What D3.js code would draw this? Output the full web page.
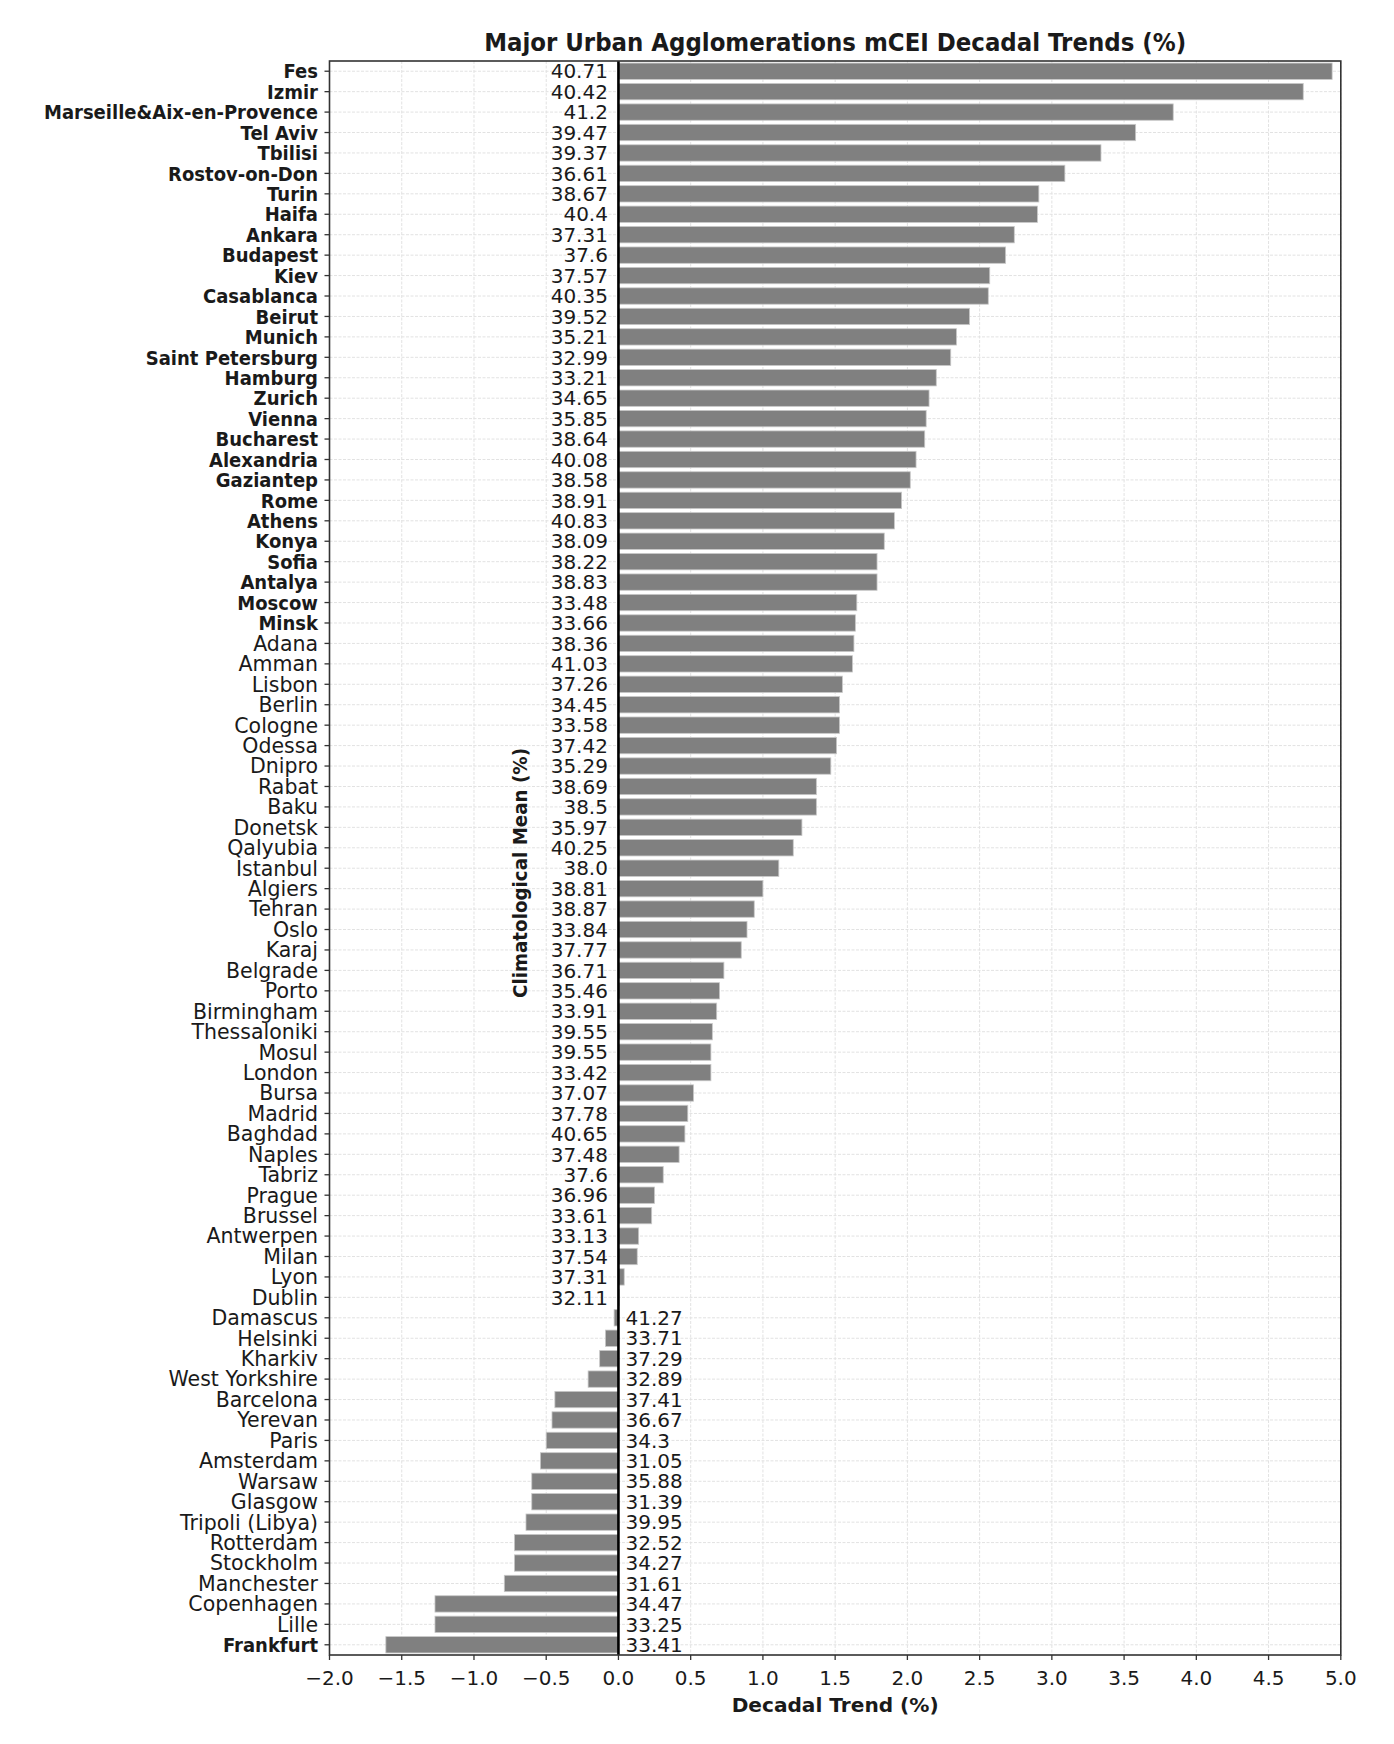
<!DOCTYPE html>
<html>
<head>
<meta charset="utf-8">
<script src="https://cdn.jsdelivr.net/npm/d3@7"></script>
<style>
  html, body { margin: 0; padding: 0; background: #fff; }
  text { font-family: "DejaVu Sans", sans-serif; fill: #1a1a1a; }
</style>
</head>
<body>
<script>
const cities = ["Fes","Izmir","Marseille&Aix-en-Provence","Tel Aviv","Tbilisi","Rostov-on-Don","Turin","Haifa","Ankara","Budapest","Kiev","Casablanca","Beirut","Munich","Saint Petersburg","Hamburg","Zurich","Vienna","Bucharest","Alexandria","Gaziantep","Rome","Athens","Konya","Sofia","Antalya","Moscow","Minsk","Adana","Amman","Lisbon","Berlin","Cologne","Odessa","Dnipro","Rabat","Baku","Donetsk","Qalyubia","Istanbul","Algiers","Tehran","Oslo","Karaj","Belgrade","Porto","Birmingham","Thessaloniki","Mosul","London","Bursa","Madrid","Baghdad","Naples","Tabriz","Prague","Brussel","Antwerpen","Milan","Lyon","Dublin","Damascus","Helsinki","Kharkiv","West Yorkshire","Barcelona","Yerevan","Paris","Amsterdam","Warsaw","Glasgow","Tripoli (Libya)","Rotterdam","Stockholm","Manchester","Copenhagen","Lille","Frankfurt"];

const trends = [4.94,4.74,3.84,3.58,3.34,3.09,2.91,2.90,2.74,2.68,2.57,2.56,2.43,2.34,2.30,2.20,2.15,2.13,2.12,2.06,2.02,1.96,1.91,1.84,1.79,1.79,1.65,1.64,1.63,1.62,1.55,1.53,1.53,1.51,1.47,1.37,1.37,1.27,1.21,1.11,1.00,0.94,0.89,0.85,0.73,0.70,0.68,0.65,0.64,0.64,0.52,0.48,0.46,0.42,0.31,0.25,0.23,0.14,0.13,0.04,0.005,-0.03,-0.09,-0.13,-0.21,-0.44,-0.46,-0.50,-0.54,-0.60,-0.60,-0.64,-0.72,-0.72,-0.79,-1.27,-1.27,-1.61];

const means = [40.71,40.42,41.2,39.47,39.37,36.61,38.67,40.4,37.31,37.6,37.57,40.35,39.52,35.21,32.99,33.21,34.65,35.85,38.64,40.08,38.58,38.91,40.83,38.09,38.22,38.83,33.48,33.66,38.36,41.03,37.26,34.45,33.58,37.42,35.29,38.69,38.5,35.97,40.25,38.0,38.81,38.87,33.84,37.77,36.71,35.46,33.91,39.55,39.55,33.42,37.07,37.78,40.65,37.48,37.6,36.96,33.61,33.13,37.54,37.31,32.11,41.27,33.71,37.29,32.89,37.41,36.67,34.3,31.05,35.88,31.39,39.95,32.52,34.27,31.61,34.47,33.25,33.41];

const boldCities = ["Fes","Izmir","Marseille&Aix-en-Provence","Tel Aviv","Tbilisi","Rostov-on-Don","Turin","Haifa","Ankara","Budapest","Kiev","Casablanca","Beirut","Munich","Saint Petersburg","Hamburg","Zurich","Vienna","Bucharest","Alexandria","Gaziantep","Rome","Athens","Konya","Sofia","Antalya","Moscow","Minsk","Frankfurt"];

const xTicks = [-2.0,-1.5,-1.0,-0.5,0.0,0.5,1.0,1.5,2.0,2.5,3.0,3.5,4.0,4.5,5.0];
const xDomain = [-2, 5];

const titleText = "Major Urban Agglomerations mCEI Decadal Trends (%)";
const xLabelText = "Decadal Trend (%)";
const yLabelText = "Climatological Mean (%)";

const W = 1394, H = 1744;
const m = {left: 329.5, right: W - 1340.8, top: 61, bottom: H - 1655};

const data = cities.map((c, i) => ({city: c, trend: trends[i], mean: means[i], bold: boldCities.includes(c)}));

const svg = d3.select("body").append("svg").attr("width", W).attr("height", H);
svg.append("rect").attr("width", W).attr("height", H).attr("fill", "#fff");

const x = d3.scaleLinear().domain(xDomain).range([m.left, W - m.right]);
const y = d3.scaleBand().domain(cities).range([m.top, H - m.bottom]).paddingInner(0.2).paddingOuter(0.1);

function pyStr(v) { return Number.isInteger(v) ? v.toFixed(1) : String(v); }
function compress(sel, f) {
  sel.each(function() {
    const w = this.getComputedTextLength();
    this.setAttribute("textLength", w * f);
    this.setAttribute("lengthAdjust", "spacingAndGlyphs");
  });
}

// grid
const grid = svg.append("g");
grid.selectAll("line.gx").data(xTicks).join("line")
  .attr("x1", d => x(d)).attr("x2", d => x(d))
  .attr("y1", m.top).attr("y2", H - m.bottom)
  .attr("stroke", "#e2e2e2").attr("stroke-width", 1).attr("stroke-dasharray", "3,1.5");
grid.selectAll("line.gy").data(cities).join("line")
  .attr("x1", m.left).attr("x2", W - m.right)
  .attr("y1", d => y(d) + y.bandwidth() / 2).attr("y2", d => y(d) + y.bandwidth() / 2)
  .attr("stroke", "#e2e2e2").attr("stroke-width", 1).attr("stroke-dasharray", "3,1.5");

// bars
svg.append("g").selectAll("rect").data(data).join("rect")
  .attr("x", d => x(Math.min(0, d.trend)))
  .attr("width", d => Math.abs(x(d.trend) - x(0)))
  .attr("y", d => y(d.city))
  .attr("height", y.bandwidth())
  .attr("fill", "#808080")
  .attr("stroke", "#c8c8c8").attr("stroke-width", 0.8);

// zero line
svg.append("line").attr("x1", x(0)).attr("x2", x(0)).attr("y1", m.top).attr("y2", H - m.bottom)
  .attr("stroke", "#000").attr("stroke-width", 2.6);

// mean labels
svg.append("g").selectAll("text").data(data).join("text")
  .attr("x", d => d.trend >= 0 ? x(0) - 10.5 : x(0) + 7)
  .attr("y", d => y(d.city) + y.bandwidth() / 2)
  .attr("dy", "0.36em")
  .attr("text-anchor", d => d.trend >= 0 ? "end" : "start")
  .attr("font-size", 20)
  .text(d => pyStr(d.mean));

// frame
svg.append("rect").attr("x", m.left).attr("y", m.top)
  .attr("width", W - m.right - m.left).attr("height", H - m.bottom - m.top)
  .attr("fill", "none").attr("stroke", "#333").attr("stroke-width", 1.6);

// y axis ticks + labels
const yAx = svg.append("g");
yAx.selectAll("line").data(cities).join("line")
  .attr("x1", m.left - 5).attr("x2", m.left)
  .attr("y1", d => y(d) + y.bandwidth() / 2).attr("y2", d => y(d) + y.bandwidth() / 2)
  .attr("stroke", "#333").attr("stroke-width", 1.3);
const yl = yAx.selectAll("text").data(data).join("text")
  .attr("x", m.left - 11.5)
  .attr("y", d => y(d.city) + y.bandwidth() / 2)
  .attr("dy", "0.36em")
  .attr("text-anchor", "end")
  .attr("font-size", d => d.bold ? 20 : 20.5)
  .attr("font-weight", d => d.bold ? "bold" : "normal")
  .text(d => d.city);
compress(yl.filter(d => d.bold), 0.9);

// x axis ticks + labels
const xAx = svg.append("g");
xAx.selectAll("line").data(xTicks).join("line")
  .attr("x1", d => x(d)).attr("x2", d => x(d))
  .attr("y1", H - m.bottom).attr("y2", H - m.bottom + 5)
  .attr("stroke", "#333").attr("stroke-width", 1.3);
xAx.selectAll("text").data(xTicks).join("text")
  .attr("x", d => x(d)).attr("y", 1685)
  .attr("text-anchor", "middle").attr("font-size", 20)
  .text(d => (d < 0 ? "\u2212" : "") + Math.abs(d).toFixed(1));

// title
const t = svg.append("text").attr("x", (m.left + W - m.right) / 2).attr("y", 51)
  .attr("text-anchor", "middle").attr("font-size", 24).attr("font-weight", "bold").text(titleText);
t.attr("textLength", 702).attr("lengthAdjust", "spacingAndGlyphs");

// x label
svg.append("text").attr("x", (m.left + W - m.right) / 2).attr("y", 1712)
  .attr("text-anchor", "middle").attr("font-size", 20).attr("font-weight", "bold")
  .attr("textLength", 207).attr("lengthAdjust", "spacingAndGlyphs")
  .text(xLabelText);

// y label (inside plot)
svg.append("text").attr("transform", "translate(527,873) rotate(-90)")
  .attr("text-anchor", "middle").attr("font-size", 20).attr("font-weight", "bold")
  .attr("textLength", 250).attr("lengthAdjust", "spacingAndGlyphs")
  .text(yLabelText);
</script>
</body>
</html>
